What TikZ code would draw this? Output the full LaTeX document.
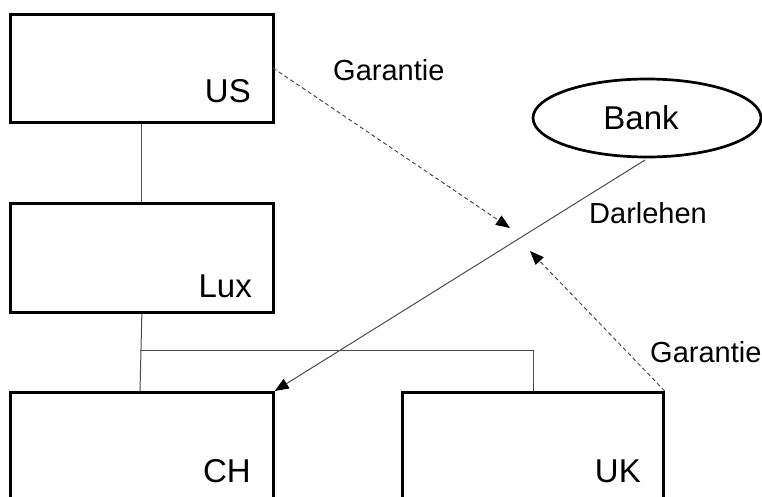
\documentclass[tikz,border=0pt]{standalone}
\usepackage{fontspec}
\setmainfont{Liberation Sans}
\usetikzlibrary{arrows.meta,shapes.geometric}
\begin{document}
\begin{tikzpicture}[x=1pt,y=-1pt,
  ent/.style={draw=black,line width=2.7pt,rectangle,anchor=north west,minimum width=263pt,inner sep=0pt},
  lbl/.style={anchor=base east,inner sep=0pt,font=\fontsize{33}{36}\selectfont},
  txt/.style={anchor=base west,inner sep=0pt,font=\fontsize{29}{32}\selectfont},
  tie/.style={draw=black!70,line width=1pt},
  tip/.style={-{Triangle[length=14pt,width=11pt,fill=black,color=black]}},
  guar/.style={draw=black!70,line width=1pt,dash pattern=on 4pt off 3pt,tip},
  loan/.style={draw=black!70,line width=1pt,tip}
]
\useasboundingbox (0,0) rectangle (762,497);
\clip (0,0) rectangle (762,497);
\node[ent,minimum height=108pt] (US) at (9,13) {};
\node[ent,minimum height=109pt] (Lux) at (9,202) {};
\node[ent,minimum height=130pt] (CH) at (9,391) {};
\node[ent,minimum width=261pt,minimum height=130pt] (UK) at (401,391) {};
\node[ellipse,draw=black,line width=2.7pt,minimum width=228pt,minimum height=78pt,inner sep=0pt] (Bank) at (647,118) {};
\node[lbl] (tUS) at (251,103) {US};
\node[lbl] (tLux) at (252,297) {Lux};
\node[lbl] (tCH) at (251,482) {CH};
\node[lbl] (tUK) at (641,482) {UK};
\node[anchor=center,inner sep=0pt,font=\fontsize{33}{36}\selectfont] (tBank) at (641,118) {Bank};
\node[txt] (g1) at (333,81) {Garantie};
\node[txt] (dl) at (589,223) {Darlehen};
\node[txt] (g2) at (650,362) {Garantie};
\coordinate (j1) at (140,350);
\coordinate (j2) at (533,350);
\draw[tie] (US.south) -- (Lux.north);
\draw[tie] (Lux.south) -- (CH.north -| j1);
\draw[tie] (j1) -- (j2) -- (UK.north -| j2);
\coordinate (ush) at (273,68);
\coordinate (g1e) at (510,228);
\coordinate (g2e) at (530,251);
\coordinate (bk) at (645,160);
\draw[guar] (ush) -- (g1e);
\draw[guar] (UK.north east) -- (g2e);
\draw[loan] (bk) -- (CH.north east);
\end{tikzpicture}
\end{document}
